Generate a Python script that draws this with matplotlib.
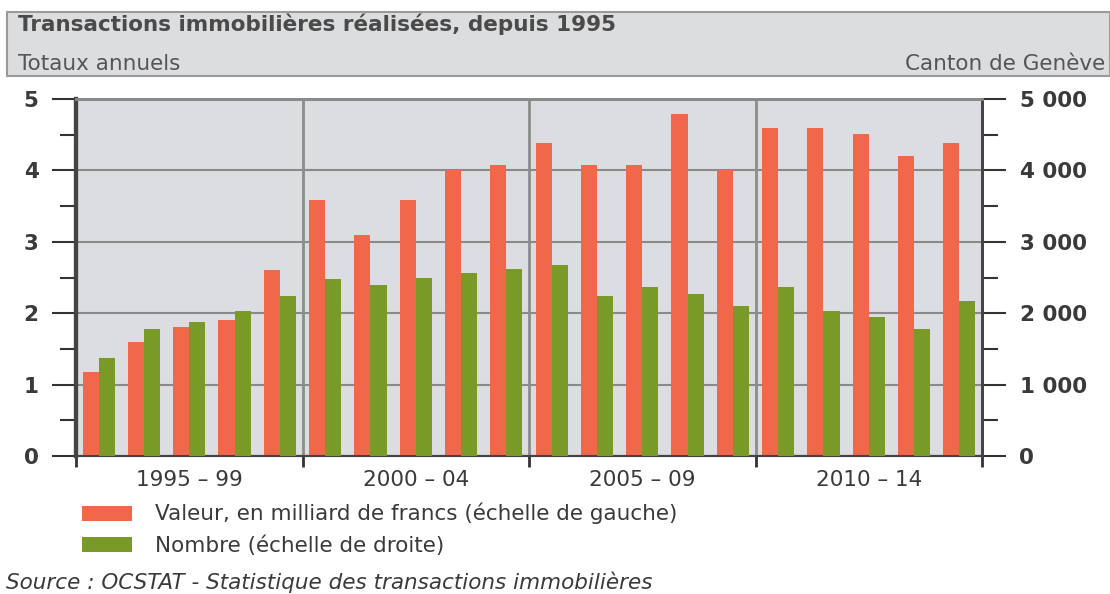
import matplotlib.pyplot as plt
import numpy as np
from matplotlib.patches import Rectangle

plt.rcParams['font.family'] = ['DejaVu Sans']

years = list(range(1995, 2015))
valeur = [1.18, 1.59, 1.80, 1.90, 2.60, 3.59, 3.09, 3.59, 4.00, 4.08,
          4.39, 4.08, 4.08, 4.79, 4.00, 4.60, 4.60, 4.51, 4.20, 4.39]
nombre = [1374, 1776, 1870, 2030, 2240, 2480, 2390, 2500, 2570, 2620,
          2670, 2240, 2360, 2270, 2100, 2360, 2030, 1940, 1780, 2170]
groups = ['1995 – 99', '2000 – 04', '2005 – 09', '2010 – 14']

orange = '#F06749'
green = '#7A9A28'
txt = '#3a3a3a'
fs = 15.5
W, H = 1110, 594


def fy(py):
    # pixel row -> figure fraction
    return 1 - py / H


fig = plt.figure(figsize=(W / 100, H / 100), dpi=100)

# header band
fig.patches.append(Rectangle((7 / W, fy(76)), 1 - 7 / W, 64 / H, transform=fig.transFigure,
                             facecolor='#DCDDDF', edgecolor='#9a9a9a', linewidth=1.5, zorder=0))
fig.text(18 / W, fy(31), 'Transactions immobilières réalisées, depuis 1995',
         fontsize=fs, fontweight='bold', color='#4a4a4a', va='baseline', ha='left')
fig.text(18 / W, fy(70), 'Totaux annuels', fontsize=fs, color='#555555', va='baseline', ha='left')
fig.text(1105 / W, fy(70), 'Canton de Genève', fontsize=fs, color='#555555', va='baseline', ha='right')

ax = fig.add_axes([76 / W, fy(456), 906 / W, 357 / H])
ax2 = ax.twinx()

x = np.arange(len(years))
w = 0.355
ax.bar(x - w / 2, valeur, w, color=orange, zorder=3)
ax2.bar(x + w / 2, nombre, w, color=green, zorder=3)

ax.set_facecolor('#DCDDE0')
ax.set_xlim(-0.5, len(years) - 0.5)
ax.set_ylim(0, 5)
ax2.set_ylim(0, 5000)

ax.set_yticks([0, 1, 2, 3, 4, 5])
ax.set_yticks(np.arange(0.5, 5, 1), minor=True)
ax2.set_yticks([0, 1000, 2000, 3000, 4000, 5000])
ax2.set_yticklabels(['0', '1 000', '2 000', '3 000', '4 000', '5 000'])
ax2.set_yticks(np.arange(500, 5000, 1000), minor=True)

for a in (ax, ax2):
    a.tick_params(axis='y', which='major', length=17, width=1.5, color='#333333', pad=10,
                  labelsize=fs, labelcolor=txt)
    a.tick_params(axis='y', which='minor', length=11.5, width=1.5, color='#333333')
    for lab in a.get_yticklabels():
        lab.set_fontweight('bold')

ax.grid(axis='y', color='#8a8a8a', linewidth=1.5, zorder=1)
ax.set_axisbelow(True)
for b in (4.5, 9.5, 14.5):
    ax.axvline(b, color='#8c8c8c', linewidth=2, zorder=1)

# group ticks at boundaries, labels in between
ax.set_xticks([-0.5, 4.5, 9.5, 14.5, 19.5])
ax.set_xticklabels([])
ax.set_xticks([2, 7, 12, 17], minor=True)
ax.set_xticklabels(groups, minor=True)
ax.tick_params(axis='x', which='major', length=8, width=2, color='#333333')
ax.tick_params(axis='x', which='minor', length=0, pad=10, labelsize=fs, labelcolor=txt)

for a in (ax, ax2):
    a.spines['top'].set_color('#8a8a8a')
    a.spines['top'].set_linewidth(2)
    a.spines['left'].set_color('#444444')
    a.spines['left'].set_linewidth(3)
    a.spines['right'].set_color('#444444')
    a.spines['right'].set_linewidth(2)
    a.spines['bottom'].set_color('#444444')
    a.spines['bottom'].set_linewidth(1.5)

# legend
fig.patches.append(Rectangle((82 / W, fy(521)), 50 / W, 15 / H, transform=fig.transFigure,
                             facecolor=orange, edgecolor='none'))
fig.patches.append(Rectangle((82 / W, fy(552)), 50 / W, 15 / H, transform=fig.transFigure,
                             facecolor=green, edgecolor='none'))
fig.text(155 / W, fy(520), 'Valeur, en milliard de francs (échelle de gauche)',
         fontsize=fs, color=txt, va='baseline', ha='left')
fig.text(155 / W, fy(552), 'Nombre (échelle de droite)',
         fontsize=fs, color=txt, va='baseline', ha='left')

fig.text(6 / W, fy(589), 'Source : OCSTAT - Statistique des transactions immobilières',
         fontsize=fs, style='italic', color=txt, va='baseline', ha='left')

fig.savefig('out.png', dpi=100)
